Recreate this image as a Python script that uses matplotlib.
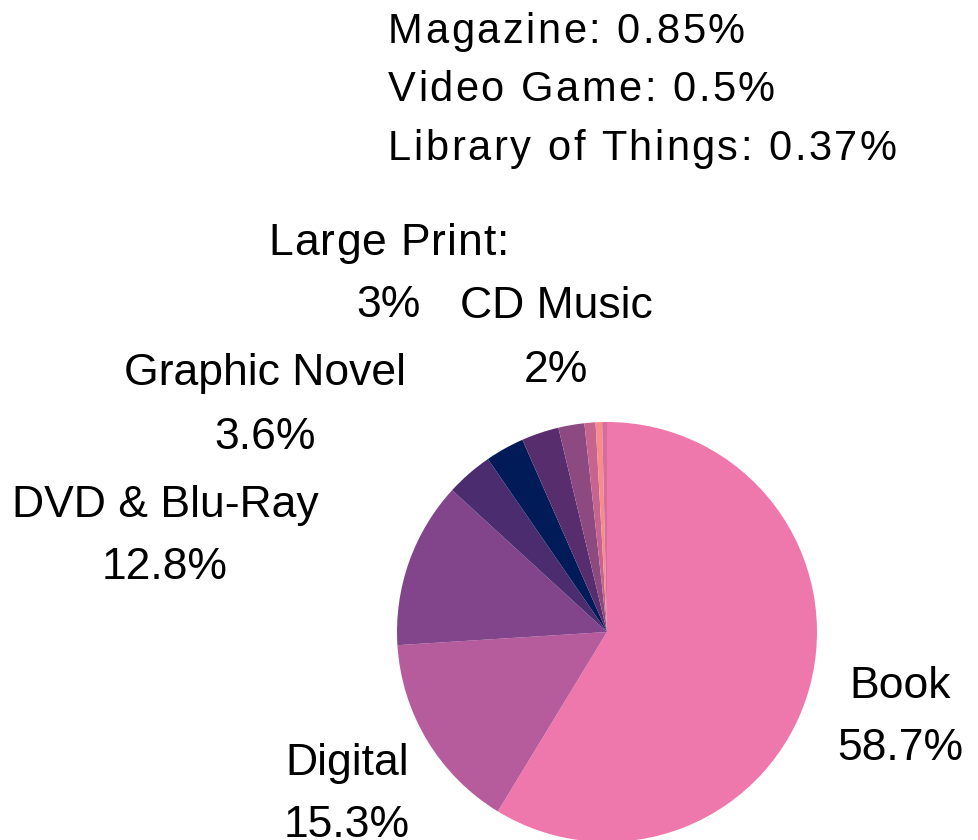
import matplotlib

matplotlib.use("Agg")
import matplotlib.pyplot as plt
from matplotlib.font_manager import FontProperties

# circulation share by material type, clockwise from 12 o'clock
categories = [
    "Book",
    "Digital",
    "DVD & Blu-Ray",
    "Graphic Novel",
    "Large Print",
    "Other",
    "CD Music",
    "Magazine",
    "Video Game",
    "Library of Things",
]
shares = [58.7, 15.3, 12.8, 3.6, 3.0, 2.88, 2.0, 0.85, 0.5, 0.37]
colors = [
    "#EE78AC",
    "#B65C9C",
    "#82458B",
    "#4B2D6F",
    "#001B57",
    "#572D6E",
    "#8D4A80",
    "#C6648E",
    "#F68C8C",
    "#D56E9B",
]

# labels drawn beside the pie: first line, x centre, baseline of each line (image px)
pie_labels = {
    "Book": ("Book", 900, 698, 760),
    "Digital": ("Digital", 347, 775, 837),
    "DVD & Blu-Ray": ("DVD & Blu-Ray", 165, 517, 579),
    "Graphic Novel": ("Graphic Novel", 265, 385, 449),
    "Large Print": ("Large Print:", 389, 255, 317),
    "CD Music": ("CD Music", 556, 318, 382),
}
# small slices listed at the top
list_items = ["Magazine", "Video Game", "Library of Things"]
list_baselines = [43, 101, 160]

W, H = 979, 840
FONT = "Liberation Sans"


def fmt(v):
    return f"{v:g}%"


def spaced_text(ax, renderer, x, y, s, fp, spacing, ha="left"):
    # matplotlib has no letter spacing, so place characters one by one
    ref = renderer.get_text_width_height_descent("x", fp, ismath=False)[0]
    advs = [
        renderer.get_text_width_height_descent(s[:i] + "x", fp, ismath=False)[0] - ref + i * spacing
        for i in range(len(s) + 1)
    ]
    if ha == "center":
        x -= (advs[-1] - spacing) / 2
    for i, ch in enumerate(s):
        if ch == " ":
            continue
        ax.text(x + advs[i], y, ch, fontproperties=fp, ha="left", va="baseline")


def main():
    fig = plt.figure(figsize=(W / 100, H / 100), dpi=100)
    ax = fig.add_axes([0, 0, 1, 1])
    ax.pie(
        shares,
        colors=colors,
        startangle=90,
        counterclock=False,
        center=(607, H - 632),
        radius=210,
        wedgeprops={"linewidth": 0},
    )
    ax.set_xlim(0, W)
    ax.set_ylim(0, H)
    ax.set_aspect("auto")
    ax.axis("off")

    renderer = fig.canvas.get_renderer()
    label_fp = FontProperties(family=FONT, size=32)
    for name, (first, x, y1, y2) in pie_labels.items():
        value = shares[categories.index(name)]
        if name == "Large Print":
            spaced_text(ax, renderer, x, H - y1, first, label_fp, 1.0, ha="center")
        else:
            ax.text(x, H - y1, first, fontproperties=label_fp, ha="center", va="baseline")
        ax.text(x, H - y2, fmt(value), fontproperties=label_fp, ha="center", va="baseline")

    list_fp = FontProperties(family=FONT, size=30)
    for name, y in zip(list_items, list_baselines):
        value = shares[categories.index(name)]
        spaced_text(ax, renderer, 388, H - y, f"{name}: {fmt(value)}", list_fp, 2.55)

    fig.savefig("out.png", dpi=100)


if __name__ == "__main__":
    main()
